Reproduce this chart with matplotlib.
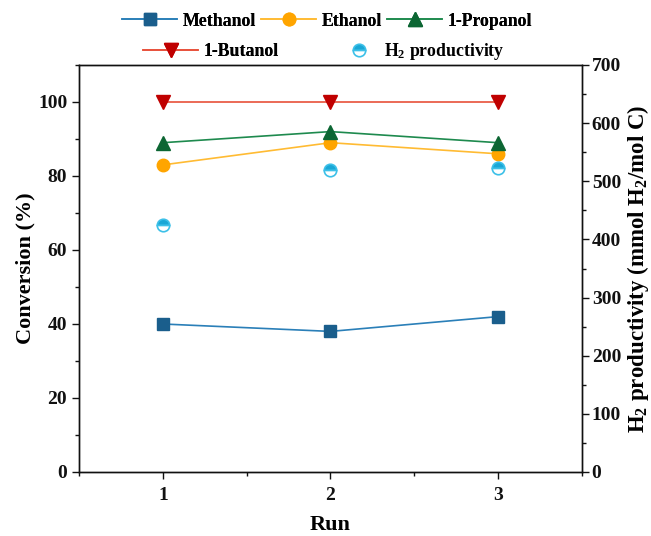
import matplotlib
matplotlib.use("Agg")
import matplotlib.pyplot as plt
from matplotlib.ticker import MultipleLocator

runs = [1, 2, 3]
methanol = [40, 38, 42]
ethanol = [83, 89, 86]
propanol = [89, 92, 89]
butanol = [100, 100, 100]
h2_prod = [424, 519, 522]

plt.rcParams['font.family'] = ['Liberation Serif', 'DejaVu Serif']
plt.rcParams['font.weight'] = 'bold'
plt.rcParams['mathtext.default'] = 'regular'

W, H = 651, 536
fig = plt.figure(figsize=(W/100, H/100), dpi=100)
ax = fig.add_axes([79/W, 64/H, (582-79)/W, (472-65)/H])
ax2 = ax.twinx()

h1, = ax.plot(runs, methanol, '-', color='#2a7fb8', lw=1.2, marker='s', ms=8.5,
              mfc='#1a5e8c', mec='#1a5e8c', label='Methanol')
h2, = ax.plot(runs, ethanol, '-', color='#ffbb33', lw=1.2, marker='o', ms=9,
              mfc='#ffa500', mec='#ffa500', label='Ethanol')
h3, = ax.plot(runs, propanol, '-', color='#1e8a4e', lw=1.2, marker='^', ms=10,
              mfc='#0c6633', mec='#0c6633', label='1-Propanol')
h4, = ax.plot(runs, butanol, '-', color='#e8503a', lw=1.2, marker='v', ms=10,
              mfc='#c00000', mec='#c00000', label='1-Butanol')
h5, = ax2.plot(runs, h2_prod, ls='none', marker='o', ms=9, fillstyle='top',
               mfc='#1aa7d6', mfcalt='white', mec='#3cc0e8', mew=1.2,
               label='H$_2$ productivity')

ax.set_xlim(0.5, 3.5)
ax.set_ylim(0, 110)
ax2.set_ylim(0, 700)
ax.set_xticks(runs)
ax.xaxis.set_minor_locator(MultipleLocator(0.5))
ax.yaxis.set_major_locator(MultipleLocator(20))
ax.yaxis.set_minor_locator(MultipleLocator(10))
ax2.yaxis.set_major_locator(MultipleLocator(100))
ax2.yaxis.set_minor_locator(MultipleLocator(50))

for a in (ax, ax2):
    a.tick_params(which='major', direction='out', length=5, width=1,
                  labelsize=14, colors='#111111')
    a.tick_params(which='minor', direction='out', length=3, width=1, colors='#111111')
    for s in a.spines.values():
        s.set_linewidth(1)
        s.set_color('#111111')
ax.tick_params(axis='x', pad=6)
ax2.tick_params(axis='y', pad=2)

ax.set_xlabel('Run', fontsize=16, fontweight='bold', labelpad=8)
ax.set_ylabel('Conversion (%)', fontsize=16, fontweight='bold', labelpad=2)
ax2.set_ylabel('H$_2$ productivity (mmol H$_2$/mol C)', fontsize=16.5,
               fontweight='bold', labelpad=3)

common = dict(frameon=False, fontsize=12.8, borderpad=0, borderaxespad=0,
              loc='center left')
leg1 = fig.legend(handles=[h1, h2, h3], bbox_to_anchor=(122/W, 1 - 21/H),
                  ncol=3, handlelength=3.1, columnspacing=0.3,
                  handletextpad=0.3, **common)
fig.add_artist(leg1)
leg2 = fig.legend(handles=[h4], bbox_to_anchor=(143/W, 1 - 52/H),
                  handlelength=3.1, handletextpad=0.3, **common)
fig.add_artist(leg2)
leg3 = fig.legend(handles=[h5], bbox_to_anchor=(345/W, 1 - 52/H),
                  handlelength=1.6, handletextpad=0.6, **common)

fig.savefig('out.png', dpi=100)
